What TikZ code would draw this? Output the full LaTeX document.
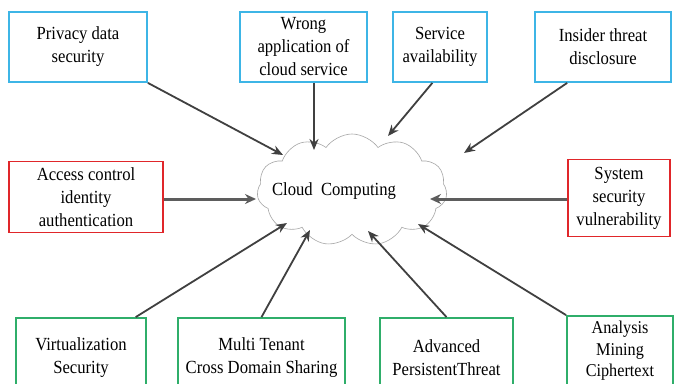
\documentclass[tikz,border=0pt]{standalone}
\usepackage{fontspec}
\setmainfont[FakeStretch=0.9]{Liberation Serif}
\usetikzlibrary{shapes.symbols,arrows.meta,calc}
\definecolor{bbox}{HTML}{3DB5E6}
\definecolor{rbox}{HTML}{E0262A}
\definecolor{gbox}{HTML}{2FAE6A}
\definecolor{arr}{HTML}{404040}
\begin{document}
\begin{tikzpicture}[x=1pt,y=-1pt,
  box/.style={draw, line width=1.8pt, fill=white, align=center, inner sep=1pt,
    font=\fontsize{18.5}{23}\selectfont},
  bluebox/.style={box, draw=bbox},
  redbox/.style={box, draw=rbox},
  greenbox/.style={box, draw=gbox},
  link/.style={draw=arr, line width=1.8pt, -{Stealth[length=11pt,width=9pt]}},
  thick link/.style={draw=arr!85, line width=3pt, -{Stealth[length=11pt,width=10pt]}}]
\useasboundingbox (0,0) rectangle (674,383);
\fill[white] (0,0) rectangle (674,383);
% cloud
\node[cloud, cloud puffs=11, cloud puff arc=110, aspect=1.9, draw=gray!70, line width=0.6pt, fill=white,
  minimum width=190pt, minimum height=112pt] (cloud) at (352,190) {};
\node[font=\fontsize{18.5}{20}\selectfont] (ctext) at (334,191) {Cloud\ \ Computing};
% top boxes
\node[bluebox, minimum width=138pt, minimum height=70pt] (privacy) at (78,47) {Privacy data\\security};
\node[bluebox, minimum width=127pt, minimum height=70pt] (wrong) at (303.5,47) {Wrong\\application of\\cloud service};
\node[bluebox, minimum width=94pt, minimum height=70pt] (service) at (440,47) {Service\\availability};
\node[bluebox, minimum width=136pt, minimum height=70pt] (insider) at (603,47) {Insider threat\\disclosure};
% middle boxes
\node[redbox, minimum width=154pt, minimum height=71pt] (access) at (86,197) {Access control\\identity\\authentication};
\node[redbox, minimum width=102pt, minimum height=77pt] (system) at (619,198) {System\\security\\vulnerability};
% bottom boxes
\node[greenbox, minimum width=130pt, minimum height=80pt] (virt) at (81,358) {Virtualization\\Security};
\node[greenbox, minimum width=167pt, minimum height=80pt] (multi) at (261.5,358) {Multi Tenant\\Cross Domain Sharing};
\node[greenbox, minimum width=133pt, minimum height=80pt] (adv) at (446.5,358) {Advanced\\PersistentThreat};
\node[greenbox, minimum width=106pt, minimum height=70pt, font=\fontsize{18}{21.5}\selectfont] (analysis) at (620,351) {Analysis\\Mining\\Ciphertext};
% arrow tips
\coordinate (tP) at (283,155);
\coordinate (tW) at (314,150);
\coordinate (tS) at (388,136);
\coordinate (tI) at (464,153);
\coordinate (tA) at (256,199);
\coordinate (tSy) at (430,199);
\coordinate (tV) at (287,223);
\coordinate (tM) at (310,230);
\coordinate (tAd) at (368,231);
\coordinate (tAn) at (418,224);
% arrows
\draw[link] (privacy.south east) -- (tP);
\draw[link] (tW |- wrong.south) -- (tW);
\draw[link] ($(service.south west)!0.42!(service.south east)$) -- (tS);
\draw[link] ($(insider.south west)!0.24!(insider.south east)$) -- (tI);
\draw[thick link] (access.east |- tA) -- (tA);
\draw[thick link] (system.west |- tSy) -- (tSy);
\draw[link] ($(virt.north west)!0.915!(virt.north east)$) -- (tV);
\draw[link] (multi.north) -- (tM);
\draw[link] (adv.north) -- (tAd);
\draw[link] (analysis.north west) -- (tAn);
\end{tikzpicture}
\end{document}
